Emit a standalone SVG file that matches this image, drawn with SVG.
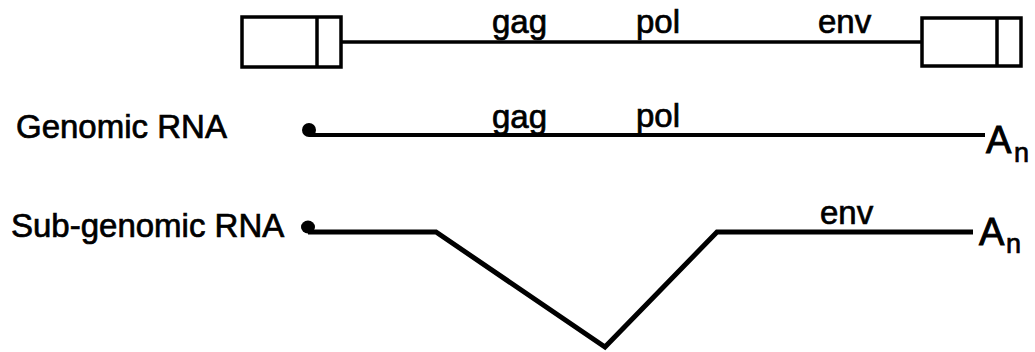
<svg xmlns="http://www.w3.org/2000/svg" width="1035" height="352" viewBox="0 0 1035 352">
<style>
text{font-family:"Liberation Sans",Arial,Helvetica,sans-serif;fill:#000;stroke:#000;stroke-width:0.7}
.lbl{font-size:33px}
.gene{font-size:33px}
.A{font-size:38px;stroke-width:1}
.n{font-size:27px}
.box{fill:#fff;stroke:#000;stroke-width:3.5}
.ln{fill:none;stroke:#000;stroke-linejoin:miter}
</style>
<rect width="1035" height="352" fill="#fff"/>
<g id="connectors">
  <line class="ln" x1="341" y1="42" x2="922" y2="42" stroke-width="3.5"/>
  <line class="ln" x1="309" y1="135" x2="985" y2="135" stroke-width="4"/>
  <polyline class="ln" points="308,232 436,232 605,347 717,232 973,232" stroke-width="5"/>
</g>
<g id="provirus">
  <g id="ltr-left">
    <rect class="box" x="242" y="17" width="99" height="50"/>
    <line x1="317" y1="17" x2="317" y2="67" stroke="#000" stroke-width="3.5"/>
  </g>
  <g id="ltr-right">
    <rect class="box" x="922" y="18" width="99" height="48"/>
    <line x1="997" y1="18" x2="997" y2="66" stroke="#000" stroke-width="3.5"/>
  </g>
  <text class="gene" x="492" y="33">gag</text>
  <text class="gene" x="636" y="33">pol</text>
  <text class="gene" x="818" y="33">env</text>
</g>
<g id="genomic-rna">
  <text class="lbl" x="16" y="138">Genomic RNA</text>
  <ellipse cx="309" cy="130" rx="7" ry="7" fill="#000"/>
  <text class="gene" x="492" y="128">gag</text>
  <text class="gene" x="636" y="127">pol</text>
  <text class="A" x="986" y="153">A</text>
  <text class="n" x="1014" y="162">n</text>
</g>
<g id="subgenomic-rna">
  <text class="lbl" x="11" y="237">Sub-genomic RNA</text>
  <ellipse cx="308" cy="227" rx="7" ry="6.5" fill="#000"/>
  <text class="gene" x="820" y="224">env</text>
  <text class="A" x="979" y="245">A</text>
  <text class="n" x="1006" y="253">n</text>
</g>
</svg>
